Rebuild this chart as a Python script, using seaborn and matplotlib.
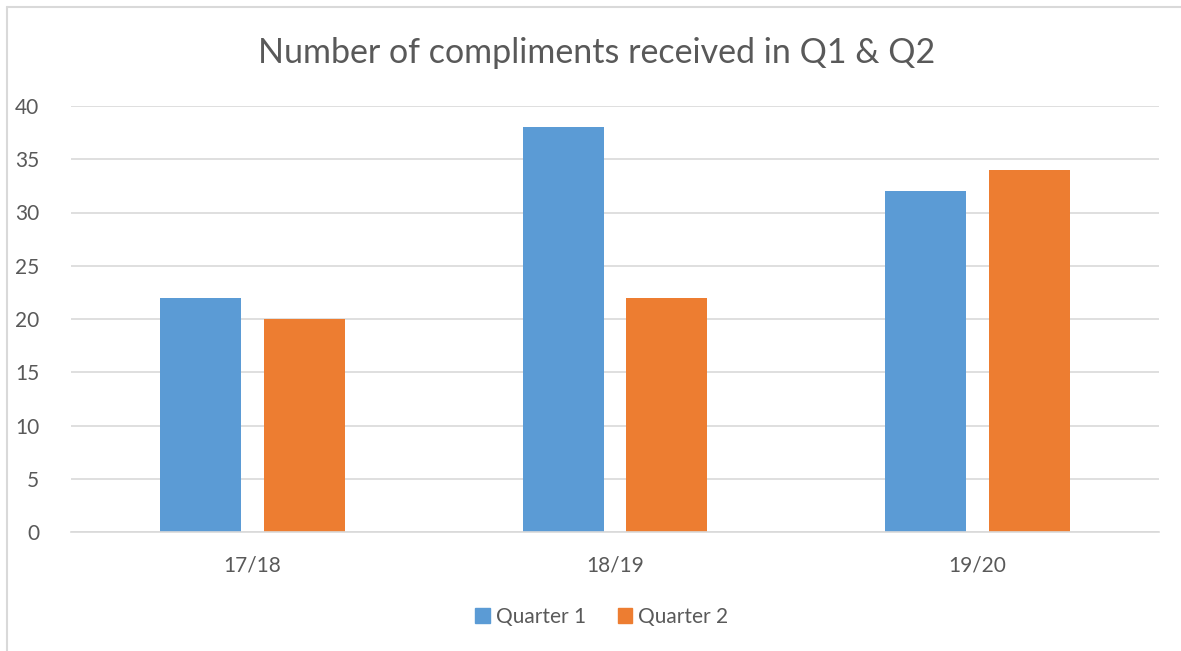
import matplotlib
matplotlib.use("Agg")
import matplotlib.pyplot as plt
import matplotlib.patches as mpatches
import matplotlib.lines as mlines
import seaborn as sns
import pandas as pd

categories = ["17/18", "18/19", "19/20"]
series_names = ["Quarter 1", "Quarter 2"]
quarter1 = [22, 38, 32]
quarter2 = [20, 22, 34]
y_ticks = [0, 5, 10, 15, 20, 25, 30, 35, 40]
title = "Number of compliments received in Q1 & Q2"

colors = ["#5B9BD5", "#ED7D31"]
text_color = "#595959"
grid_color = "#D9D9D9"

sns.set_theme(style="white")
plt.rcParams['font.family'] = ['Lato', 'DejaVu Sans']

df = pd.DataFrame({
    "period": categories * 2,
    "series": [series_names[0]] * 3 + [series_names[1]] * 3,
    "value": quarter1 + quarter2,
})

fig = plt.figure(figsize=(11.81, 6.51), dpi=100)
ax = fig.add_axes([71 / 1181, 1 - 532 / 651, (1159 - 71) / 1181, (532 - 106) / 651])

sns.barplot(data=df, x="period", y="value", hue="series", order=categories,
            hue_order=series_names, palette=colors, width=0.573, gap=0.22,
            saturation=1, ax=ax, legend=False, errorbar=None, linewidth=0)

ax.set_xlim(-0.5, 2.5)
ax.set_ylim(0, 40)
ax.set_yticks(y_ticks)
ax.set_yticklabels([str(t) for t in y_ticks])
ax.set_xlabel("")
ax.set_ylabel("")
ax.grid(axis="y", color=grid_color, linewidth=1.2)
ax.set_axisbelow(True)
for s in ["left", "right", "top"]:
    ax.spines[s].set_visible(False)
ax.spines["bottom"].set_color(grid_color)
ax.spines["bottom"].set_linewidth(1.2)
ax.tick_params(axis="y", length=0, pad=23, labelsize=15, labelcolor=text_color)
ax.tick_params(axis="x", length=0, pad=17, labelsize=15, labelcolor=text_color)

fig.text(597 / 1181, 1 - 53 / 651, title, ha="center", va="center",
         fontsize=24.5, color=text_color)

handles = [mpatches.Patch(color=c, label=n) for c, n in zip(colors, series_names)]
fig.legend(handles=handles, loc="center", bbox_to_anchor=(602 / 1181, 1 - 617 / 651),
           ncol=2, frameon=False, fontsize=15, labelcolor=text_color,
           handlelength=0.7, handleheight=0.7, handletextpad=0.3, columnspacing=1.5)

# chart frame (left and top visible)
fig.add_artist(mlines.Line2D([7 / 1181, 7 / 1181], [0, 1 - 7 / 651],
                             transform=fig.transFigure, color=grid_color, linewidth=1.5))
fig.add_artist(mlines.Line2D([7 / 1181, 1], [1 - 7 / 651, 1 - 7 / 651],
                             transform=fig.transFigure, color=grid_color, linewidth=1.5))

fig.savefig("out.png", dpi=100, facecolor="white")
